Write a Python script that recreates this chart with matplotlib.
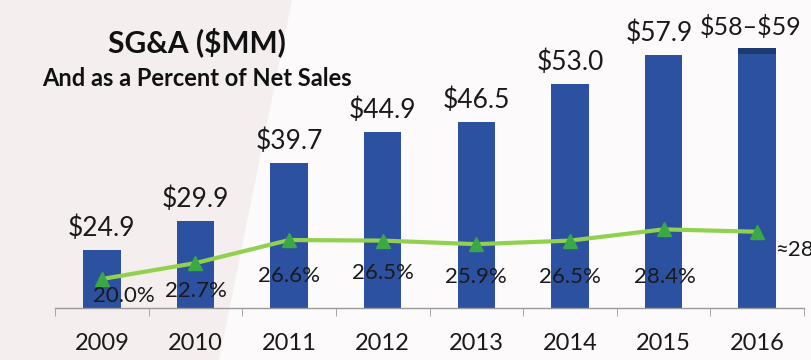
import matplotlib
matplotlib.use('Agg')
import matplotlib.pyplot as plt
from matplotlib.patches import Polygon
import numpy as np

plt.rcParams['font.family'] = ['Lato', 'DejaVu Sans']

years = ['2009', '2010', '2011', '2012', '2013', '2014', '2015', '2016']
sga = [24.9, 29.9, 39.7, 44.9, 46.5, 53.0, 57.9, 58.0]
sga_range_top = 59.0
sga_labels = ['\\$24.9', '\\$29.9', '\\$39.7', '\\$44.9', '\\$46.5', '\\$53.0', '\\$57.9',
              '\\$58\u2013\\$59']
pct = [20.0, 22.7, 26.6, 26.5, 25.9, 26.5, 28.4, 28.0]
pct_labels = ['20.0%', '22.7%', '26.6%', '26.5%', '25.9%', '26.5%', '28.4%', '\u224828%']

bar_col = '#2c51a0'
cap_col = '#1c3a72'
line_col = '#92d14f'
mark_col = '#3aa846'

fig = plt.figure(figsize=(8.11, 3.6), dpi=100)
fig.patch.set_facecolor('#f5eeee')
# lighter area behind the plot
bg = Polygon([(0.36, 1.0), (1.0, 1.0), (1.0, 0.0), (0.27, 0.0)],
             closed=True, transform=fig.transFigure,
             facecolor='#fcfafa', edgecolor='none', zorder=-5)
fig.patches.append(bg)

ax = fig.add_axes([55/811, 52/360, 749/811, 308/360])
ax.set_facecolor('none')
ax.set_zorder(2)

x = np.arange(len(years))
ax.bar(x, sga, width=0.40, color=bar_col, zorder=2)
ax.bar(x[-1], sga_range_top - sga[-1], bottom=sga[-1], width=0.40, color=cap_col, zorder=2)

tops = sga[:-1] + [sga_range_top]
for i in range(len(years)):
    last = i == len(years) - 1
    dx = -5 if last else (-3 if i == 6 else 0)
    ax.annotate(sga_labels[i], (x[i], tops[i]), xytext=(dx, 10), textcoords='offset points',
                ha='center', va='baseline', fontsize=18 if last else 19,
                color='#1a1a1a', zorder=4)

ax.plot(x, pct, color=line_col, lw=3, zorder=3)
ax.plot(x, pct, ls='none', marker='^', ms=10, color=mark_col, zorder=3)

offs = [(16, -12), (0, -20), (0, -26), (0, -23), (0, -24), (0, -26), (1, -34), (13, -13)]
for i in range(len(years)):
    ha = 'left' if i == len(years) - 1 else 'center'
    ax.annotate(pct_labels[i], (x[i], pct[i]), xytext=offs[i], textcoords='offset points',
                ha=ha, va='center', fontsize=16, color='#1a1a1a', zorder=4,
                annotation_clip=False)

ax.set_xlim(-0.5, 7.5)
ax.set_ylim(15.1, 67.2)
ax.set_yticks([])
for s in ['top', 'right', 'left']:
    ax.spines[s].set_visible(False)
ax.spines['bottom'].set_color('#9a9a9a')
ax.spines['bottom'].set_linewidth(1)

ax.set_xticks(x)
ax.set_xticklabels(years, fontsize=17, color='#1a1a1a')
ax.tick_params(axis='x', which='major', length=0, pad=18)
ax.set_xticks(np.arange(-0.5, 8.0, 1.0), minor=True)
ax.tick_params(axis='x', which='minor', length=6, color='#9a9a9a', direction='out')

fig.text(197/811, 1 - 42/360, 'SG&A ($MM)', ha='center', va='center',
         fontsize=21.5, fontweight='bold', color='#111111')
fig.text(197/811, 1 - 78/360, 'And as a Percent of Net Sales', ha='center', va='center',
         fontsize=17, fontweight='bold', color='#111111')

fig.savefig('out.png', dpi=100, facecolor=fig.get_facecolor())
